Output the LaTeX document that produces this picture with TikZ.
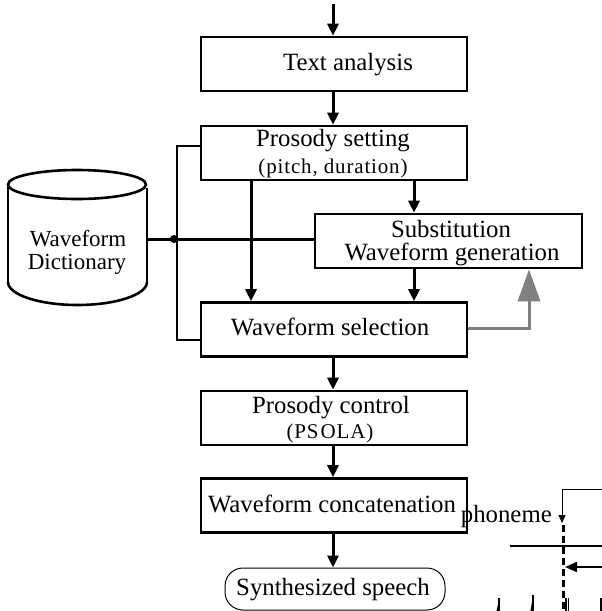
\documentclass[tikz,border=0pt]{standalone}
\usepackage{fontspec}
\setmainfont{Liberation Serif}
\usetikzlibrary{arrows.meta,calc}
\begin{document}
\begin{tikzpicture}[x=1pt,y=-1pt,
  box/.style={draw, line width=2.6pt, minimum width=266pt, minimum height=54pt, inner sep=0pt},
  lbl/.style={anchor=base, inner sep=0pt, font=\fontsize{24.8}{26}\selectfont},
  dlbl/.style={anchor=base, inner sep=0pt, font=\fontsize{23}{24}\selectfont},
  sublbl/.style={anchor=base, inner sep=0pt, font=\fontsize{21}{22}\selectfont\addfontfeature{LetterSpace=4}},
  arr/.style={line width=3pt, -{Triangle[length=12pt,width=11pt]}},
  thinarr/.style={line width=1pt, -{Triangle[length=8pt,width=7pt]}},
  busline/.style={line width=2pt},
]
\useasboundingbox (0,0) rectangle (602,611);

% boxes
\node[box] (ta) at (334,64) {};
\node[box] (ps) at (334,153) {};
\node[box, minimum width=267pt] (sw) at (448.5,241) {};
\node[box] (ws) at (334,329.5) {};
\node[box] (pc) at (334,418) {};
\node[box] (wc) at (334,505.5) {};
\node[draw, line width=1pt, rounded corners=18pt, minimum width=220pt, minimum height=42pt, inner sep=0pt] (ss) at (335,589) {};

% texts
\node[lbl] (tat) at (348,70) {Text analysis};
\node[lbl] (pst) at (333,146) {Prosody setting};
\node[sublbl] (pss) at (333,173) {(pitch, duration)};
\node[lbl] (swt1) at (451,237) {Substitution};
\node[lbl] (swt2) at (452,260) {Waveform generation};
\node[lbl] (wst) at (330,335) {Waveform selection};
\node[lbl] (pct) at (331,413) {Prosody control};
\node[sublbl] (pcs) at (330,438) {(PS\kern2pt OLA)};
\node[lbl] (wct) at (332,512) {Waveform concatenation};
\node[lbl] (sst) at (333,595) {Synthesized speech};
\node[lbl, anchor=base east] (ph) at (552,522) {phoneme};

% cylinder (waveform dictionary)
\draw[line width=2.6pt] (77,184.5) ellipse [x radius=69pt, y radius=14.5pt];
\draw[line width=2.6pt] (8,185) -- (8,282);
\draw[line width=2.6pt] (147,188) -- (147,282);
\draw[line width=2.6pt] (8,282) arc [start angle=180, end angle=360, x radius=69.5pt, y radius=23pt];
\node[dlbl] (dt1) at (78,246) {Waveform};
\node[dlbl] (dt2) at (77,269) {Dictionary};
\coordinate (dictE) at (147,239);
\coordinate (bus) at (174,239);

% main flow arrows
\coordinate (in) at (333,4);
\draw[arr] (in) -- (ta.north -| in);
\draw[arr] (ta.south -| in) -- (ps.north -| in);
\draw[arr] (ws.south -| in) -- (pc.north -| in);
\draw[arr] (pc.south -| in) -- (wc.north -| in);
\draw[arr] (wc.south -| in) -- (ss.north -| in);
\coordinate (c1) at (251,0);
\coordinate (c2) at (414,0);
\draw[arr] (ps.south -| c1) -- (ws.north -| c1);
\draw[arr] (ps.south -| c2) -- (sw.north -| c2);
\draw[arr] (sw.south -| c2) -- (ws.north -| c2);

% dictionary bus
\draw[line width=3pt] (dictE) -- (sw.west |- dictE);
\fill (bus) circle (4pt);
\coordinate (bx) at (177,0);
\draw[busline] (ps.west |- 0,146) -- (bx |- 0,146) -- (bx |- 0,340) -- (ws.west |- 0,340);

% gray feedback arrow
\coordinate (g) at (529,328);
\draw[line width=3pt, color=gray, -{Triangle[length=32pt,width=22pt]}] (ws.east |- g) -- (g) -- (sw.south -| g);

% partial figure at lower right
\coordinate (p1) at (562,489);
\coordinate (p2) at (602,489);
\coordinate (p3) at (562,523);
\coordinate (p4) at (563,611);
\draw[line width=1pt] (p2) -- (p1);
\draw[thinarr] (p1) -- (p3);
\draw[line width=3pt, dash pattern=on 7pt off 4pt] (563,525) -- (p4);
\draw[line width=2pt] (510,546) -- (602,546);
\draw[line width=2pt, -{Triangle[length=12pt,width=10pt]}] (602,567) -- (565,567);
\draw[line width=1.5pt] (499,611) -- (499,598);
\draw[line width=1.2pt] (497,611) -- (499,603);
\draw[line width=2pt] (533,611) -- (533,595);
\draw[line width=1.2pt] (531,611) -- (533,600);
\draw[line width=1.5pt] (566,611) -- (566,598);
\draw[line width=1.5pt] (568.5,611) -- (568.5,598);
\draw[line width=2pt] (601,611) -- (601,598);
\end{tikzpicture}
\end{document}
